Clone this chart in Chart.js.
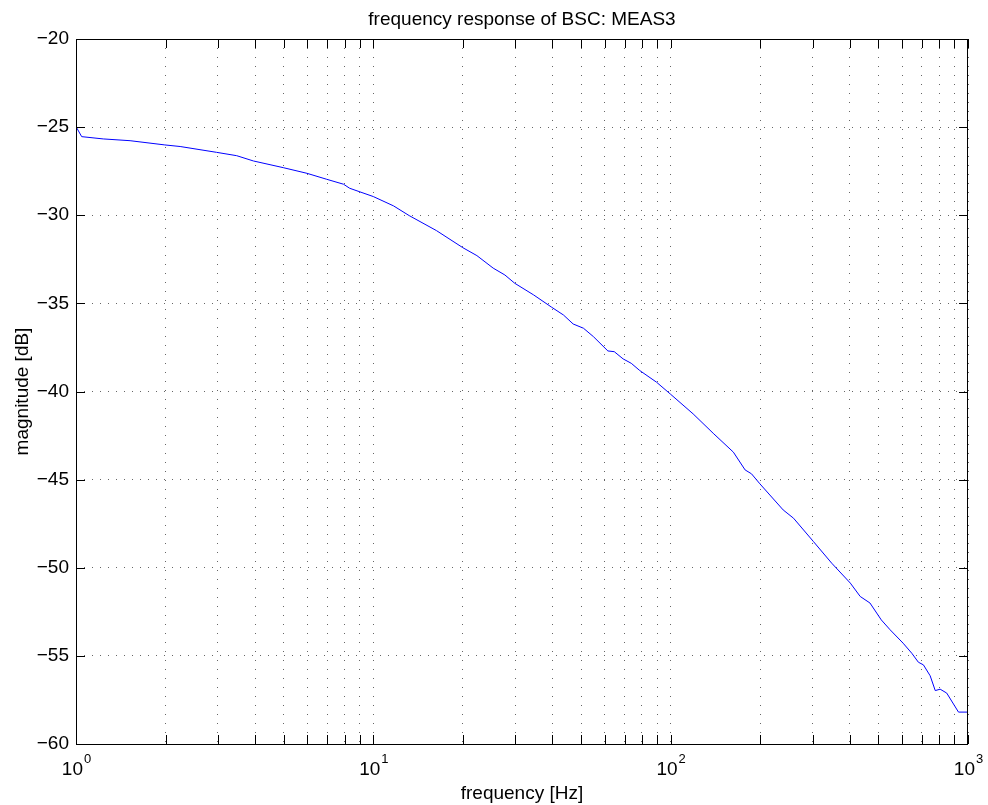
<!DOCTYPE html>
<html>
<head>
<meta charset="utf-8">
<title>frequency response of BSC: MEAS3</title>
<script src="https://cdn.jsdelivr.net/npm/chart.js@4.4.1/dist/chart.umd.min.js"></script>
<style>
  html, body { margin: 0; padding: 0; background: #fff; }
  canvas { display: block; }
</style>
</head>
<body>
<canvas id="respChart" width="988" height="805"></canvas>
<script>
const freqHz = [1, 1.045, 1.235, 1.52, 1.99, 2.24, 2.97, 3.47, 3.95, 4.98,
  5.98, 6.97, 7.94, 8.33, 10, 11.7, 13.2, 16.3, 20, 22.3,
  25.3, 27.7, 29.9, 34.6, 39.8, 43.6, 47, 50.9, 55, 61.5,
  64.6, 69.2, 73.7, 78.7, 89.6, 99.7, 119, 139, 162.5, 178,
  187, 199.6, 239, 259, 302, 348, 402, 434, 468, 511,
  547, 605, 647, 681, 708, 746, 776, 806, 848, 929, 1000];
const magDb = [-24.97, -25.54, -25.67, -25.77, -26.01, -26.10, -26.43, -26.62, -26.92, -27.30,
  -27.62, -27.96, -28.24, -28.47, -28.94, -29.47, -30.02, -30.87, -31.84, -32.29,
  -33.00, -33.39, -33.86, -34.52, -35.22, -35.66, -36.17, -36.41, -36.89, -37.70,
  -37.74, -38.15, -38.40, -38.81, -39.47, -40.14, -41.27, -42.37, -43.44, -44.45,
  -44.67, -45.24, -46.72, -47.19, -48.51, -49.74, -50.87, -51.63, -52.00, -52.96,
  -53.52, -54.28, -54.85, -55.36, -55.51, -56.13, -56.97, -56.89, -57.11, -58.19, -58.19];

const decadeValues = [1, 10, 100, 1000];
const decadeExponents = ['0', '1', '2', '3'];
const minorMultiples = [1, 2, 3, 4, 5, 6, 7, 8, 9];
const yMin = -60, yMax = -20, yStep = 5;

const FONT = '"Liberation Sans", Arial, Helvetica, sans-serif';
const tickLen = 9;

// x grid at 1..9 x each decade
const xGridValues = [];
decadeValues.forEach(d => minorMultiples.forEach(m => {
  if (d * m <= 1000) xGridValues.push(d * m);
}));

// MATLAB-like box, inner tick marks and 10^n labels
const matlabAxes = {
  id: 'matlabAxes',
  afterDraw(chart) {
    const { ctx, chartArea: a, scales: { x, y } } = chart;
    ctx.save();
    ctx.strokeStyle = '#000';
    ctx.lineWidth = 1;
    ctx.setLineDash([]);
    ctx.beginPath();
    x.ticks.forEach(t => {
      const px = Math.round(x.getPixelForValue(t.value)) + 0.5;
      ctx.moveTo(px, a.bottom); ctx.lineTo(px, a.bottom - tickLen);
      ctx.moveTo(px, a.top); ctx.lineTo(px, a.top + tickLen);
    });
    y.ticks.forEach(t => {
      const py = Math.round(y.getPixelForValue(t.value)) + 0.5;
      ctx.moveTo(a.left, py); ctx.lineTo(a.left + tickLen, py);
      ctx.moveTo(a.right, py); ctx.lineTo(a.right - tickLen, py);
    });
    ctx.stroke();
    ctx.strokeRect(Math.round(a.left) + 0.5, Math.round(a.top) + 0.5,
      Math.round(a.width) - 1, Math.round(a.height));

    ctx.fillStyle = '#000';
    ctx.textBaseline = 'alphabetic';
    ctx.textAlign = 'left';
    decadeValues.forEach((v, i) => {
      const px = x.getPixelForValue(v);
      ctx.font = '19px ' + FONT;
      const wb = ctx.measureText('10').width;
      ctx.font = '13px ' + FONT;
      const we = ctx.measureText(decadeExponents[i]).width;
      const left = px - (wb + we) / 2;
      ctx.font = '19px ' + FONT;
      ctx.fillText('10', left, a.bottom + 31);
      ctx.font = '13px ' + FONT;
      ctx.fillText(decadeExponents[i], left + wb + 1, a.bottom + 19);
    });
    ctx.restore();
  }
};

Chart.defaults.color = '#000';
Chart.defaults.font.family = FONT;

const ctx = document.getElementById('respChart').getContext('2d');
const respChart = new Chart(ctx, {
  type: 'line',
  data: {
    datasets: [{
      label: 'MEAS3',
      data: freqHz.map((f, i) => ({ x: f, y: magDb[i] })),
      borderColor: '#0000ff',
      borderWidth: 1,
      pointRadius: 0,
      tension: 0,
      fill: false
    }]
  },
  options: {
    responsive: false,
    animation: false,
    layout: { padding: { left: 0, right: 20, top: 0, bottom: 0 } },
    plugins: {
      legend: { display: false },
      tooltip: { enabled: false },
      title: {
        display: true,
        text: 'frequency response of BSC: MEAS3',
        fullSize: false,
        color: '#000',
        font: { size: 19, weight: 'normal' },
        padding: { top: 8, bottom: 8.2 }
      }
    },
    scales: {
      x: {
        type: 'logarithmic',
        min: 1,
        max: 1000,
        afterBuildTicks: scale => {
          scale.ticks = xGridValues.map(v => ({ value: v }));
        },
        afterFit: scale => { scale.height = 61; },
        ticks: { display: false },
        grid: { color: '#666', lineWidth: 1, drawTicks: false },
        border: { display: false, dash: [1, 8] },
        title: {
          display: true,
          text: 'frequency [Hz]',
          font: { size: 19 },
          padding: { top: 0, bottom: 0 }
        }
      },
      y: {
        min: yMin,
        max: yMax,
        ticks: {
          stepSize: yStep,
          padding: 7,
          font: { size: 19 },
          callback: v => (v < 0 ? '\u2212' : '') + Math.abs(v)
        },
        afterFit: scale => { scale.width = 76; },
        grid: { color: '#666', lineWidth: 1, drawTicks: false },
        border: { display: false, dash: [1, 7] },
        title: {
          display: true,
          text: 'magnitude [dB]',
          font: { size: 19 },
          padding: { top: 11, bottom: 0 }
        }
      }
    }
  },
  plugins: [matlabAxes]
});
</script>
</body>
</html>
